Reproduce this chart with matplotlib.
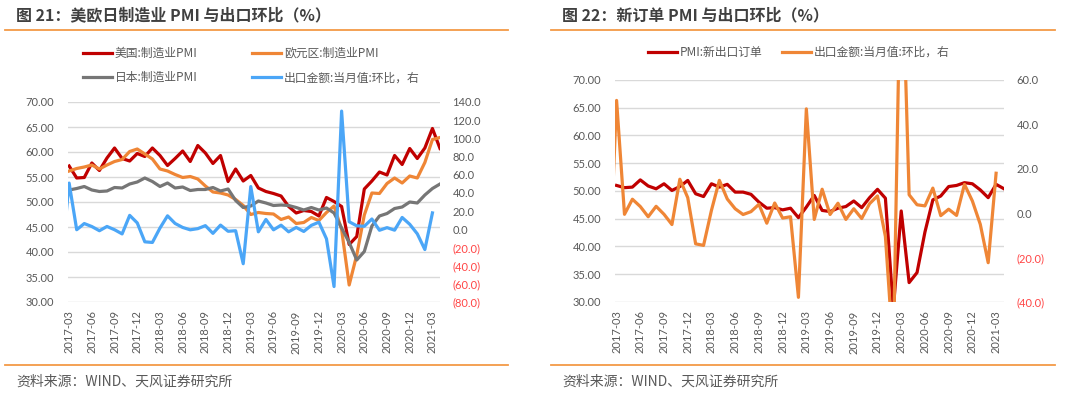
import matplotlib
matplotlib.use('Agg')
import matplotlib.pyplot as plt
from matplotlib.lines import Line2D

plt.rcParams['font.family'] = ['Noto Sans CJK SC', 'DejaVu Sans']

# ---------------- data ----------------
tick_labels = ['2017-03', '2017-06', '2017-09', '2017-12', '2018-03', '2018-06', '2018-09',
               '2018-12', '2019-03', '2019-06', '2019-09', '2019-12', '2020-03', '2020-06',
               '2020-09', '2020-12', '2021-03']

# monthly, 2017-03 .. 2021-04
us_pmi = [57.2, 54.8, 54.9, 57.8, 56.3, 58.8, 60.8, 58.7, 58.2, 59.7,
          59.1, 60.8, 59.3, 57.3, 58.7, 60.2, 58.1, 61.3, 59.8, 57.7, 59.3, 54.1,
          56.6, 54.2, 55.3, 52.8, 52.1, 51.7, 51.2, 49.1, 47.8, 48.3, 48.1, 47.2,
          50.9, 50.1, 49.1, 41.5, 43.1, 52.6, 54.2, 56.0, 55.4, 59.3, 57.5, 60.7,
          58.7, 60.8, 64.7, 60.7]
eu_pmi = [56.2, 56.7, 57.0, 57.4, 56.6, 57.4, 58.1, 58.5, 60.1, 60.6,
          59.6, 58.6, 56.6, 56.2, 55.5, 54.9, 55.1, 54.6, 53.2, 52.0, 51.8, 51.4,
          50.5, 49.3, 47.5, 47.9, 47.7, 47.6, 46.5, 47.0, 45.7, 45.9, 46.9, 46.3,
          47.9, 49.2, 44.5, 33.4, 39.4, 47.4, 51.8, 51.7, 53.7, 54.8, 53.8, 55.2,
          54.8, 57.9, 62.5, 62.9]
jp_pmi = [52.4, 52.7, 53.1, 52.4, 52.1, 52.2, 52.9, 52.8, 53.6, 54.0,
          54.8, 54.1, 53.1, 53.8, 52.8, 53.0, 52.3, 52.5, 52.5, 52.9, 52.2, 52.6,
          50.3, 48.9, 49.2, 50.2, 49.8, 49.3, 49.4, 49.3, 48.9, 48.4, 48.9, 48.4,
          48.8, 47.8, 44.8, 41.9, 38.4, 40.1, 45.2, 47.2, 47.7, 48.7, 49.0, 50.0,
          49.8, 51.4, 52.7, 53.6]
cn_new_export = [51.0, 50.6, 50.7, 52.0, 50.9, 50.4, 51.3, 50.1, 50.8, 51.9,
                 49.5, 49.0, 51.3, 50.7, 51.2, 49.8, 49.8, 49.4, 48.0, 46.9, 47.0, 46.6,
                 46.9, 45.2, 47.1, 49.2, 46.5, 46.3, 46.9, 47.2, 48.2, 47.0, 48.8, 50.3,
                 48.7, 28.7, 46.4, 33.5, 35.3, 42.6, 48.4, 49.1, 50.8, 51.0, 51.5, 51.3,
                 50.2, 48.8, 51.2, 50.4]
# monthly, 2017-02 .. 2021-03
export_mom = [-34.3,
              50.8, -0.5, 6.3, 3.0, -1.6, 3.1, -0.5, -5.1, 15.3, 7.0,
              -13.8, -14.5, 1.3, 14.8, 6.4, 2.0, -0.6, 0.7, 4.0, -4.5, 4.6, -2.2,
              -1.6, -37.9, 47.0, -2.8, 10.8, -0.6, 4.5, -2.8, 2.0, -2.4, 4.3, 7.8,
              -10.5, -63.0, 130.0, 8.3, 3.8, 3.3, 11.3, -1.1, 1.8, -1.0, 13.0, 5.5,
              -5.0, -22.3, 18.0]

left_names = ['美国:制造业PMI', '欧元区:制造业PMI', '日本:制造业PMI', '出口金额:当月值:环比，右']
right_names = ['PMI:新出口订单', '出口金额:当月值:环比，右']
titles = ['图 21：美欧日制造业 PMI 与出口环比（%）', '图 22：新订单 PMI 与出口环比（%）']
source = '资料来源：WIND、天风证券研究所'

# ---------------- style ----------------
C_RED = '#C00000'
C_ORANGE = '#EF8636'
C_GRAY = '#767676'
C_BLUE = '#4BA6F7'
C_LINE = '#F39A47'
C_TXT = '#595959'
C_NEG = '#FF4545'
LW = 2.3

W, H = 1080, 397
fig = plt.figure(figsize=(W / 100, H / 100), dpi=100)


def box(x0, x1, ytop, ybot):
    return [x0 / W, 1 - ybot / H, (x1 - x0) / W, (ybot - ytop) / H]


x_pmi = list(range(len(us_pmi)))
x_exp = list(range(-1, len(export_mom) - 1))
tick_pos = [3 * k for k in range(len(tick_labels))]


def fmt_r(v):
    return f'{v:.1f}' if v >= 0 else f'({abs(v):.1f})'


def style(ax, ax2, ylim, yticks, y2lim, y2ticks, xlim):
    for a in (ax, ax2):
        for s in a.spines.values():
            s.set_visible(False)
        a.tick_params(length=0)
    ax.set_xlim(*xlim)
    ax.set_ylim(*ylim)
    ax.set_yticks(yticks)
    ax.set_yticklabels([f'{v:.2f}' for v in yticks])
    ax.yaxis.grid(True, color='#D9D9D9', lw=1.0)
    ax.set_axisbelow(True)
    ax.set_xticks(tick_pos)
    ax.set_xticklabels(tick_labels, rotation=90)
    ax.tick_params(axis='y', pad=10, labelsize=8, labelcolor=C_TXT)
    ax.tick_params(axis='x', pad=6, labelsize=8, labelcolor=C_TXT)
    ax2.set_ylim(*y2lim)
    ax2.set_yticks(y2ticks)
    ax2.set_yticklabels([fmt_r(v) for v in y2ticks])
    ax2.tick_params(axis='y', pad=9, labelsize=8)
    for lab, v in zip(ax2.get_yticklabels(), y2ticks):
        lab.set_color(C_TXT if v >= 0 else C_NEG)
    for lab in ax.get_xticklabels() + ax.get_yticklabels() + ax2.get_yticklabels():
        lab.set_fontfamily(['Lato', 'DejaVu Sans'])


# ---------------- left chart ----------------
axL = fig.add_axes(box(68, 440, 102, 302))
axL2 = axL.twinx()
l_us, = axL.plot(x_pmi, us_pmi, color=C_RED, lw=LW, solid_joinstyle='round')
l_eu, = axL.plot(x_pmi, eu_pmi, color=C_ORANGE, lw=LW, solid_joinstyle='round')
l_jp, = axL.plot(x_pmi, jp_pmi, color=C_GRAY, lw=LW, solid_joinstyle='round')
l_ex, = axL2.plot(x_exp, export_mom, color=C_BLUE, lw=LW, solid_joinstyle='round')
style(axL, axL2, (30, 70), list(range(30, 71, 5)), (-80, 140), list(range(-80, 141, 20)),
      (-0.15, 49.0))

legL = fig.legend([l_us, l_jp, l_eu, l_ex],
                  [left_names[0], left_names[2], left_names[1], left_names[3]],
                  ncol=2, loc='upper left', bbox_to_anchor=(83 / W, 1 - 47 / H),
                  frameon=False, fontsize=8.5, handlelength=2.45, handletextpad=0.25,
                  columnspacing=4.6, labelspacing=0.95, borderpad=0, borderaxespad=0,
                  labelcolor=C_TXT)

# ---------------- right chart ----------------
axR = fig.add_axes(box(615, 1004, 80, 302))
axR2 = axR.twinx()
r_cn, = axR.plot(x_pmi, cn_new_export, color=C_RED, lw=LW, solid_joinstyle='round')
r_ex, = axR2.plot(x_exp, export_mom, color=C_ORANGE, lw=LW, solid_joinstyle='round')
style(axR, axR2, (30, 70), list(range(30, 71, 5)), (-40, 60), list(range(-40, 61, 20)),
      (-0.2, 49.0))

legR = fig.legend([r_cn, r_ex], right_names, ncol=2, loc='upper left',
                  bbox_to_anchor=(648 / W, 1 - 46 / H), frameon=False, fontsize=8.5,
                  handlelength=2.45, handletextpad=0.2, columnspacing=1.7,
                  borderpad=0, borderaxespad=0, labelcolor=C_TXT)

# ---------------- titles, rules, footers ----------------
for (x0, x1, tx) in [(5, 508, 16), (551, 1055, 562)]:
    fig.add_artist(Line2D([x0 / W, x1 / W], [1 - 29.5 / H, 1 - 29.5 / H],
                          color=C_LINE, lw=1.3))
    fig.add_artist(Line2D([x0 / W, x1 / W], [1 - 364.5 / H, 1 - 364.5 / H],
                          color=C_LINE, lw=1.3))

fig.text(16 / W, 1 - 15 / H, titles[0], fontsize=11.5, fontweight='bold',
         color='#404040', va='center', ha='left')
fig.text(562 / W, 1 - 15 / H, titles[1], fontsize=11.5, fontweight='bold',
         color='#404040', va='center', ha='left')
fig.text(16 / W, 1 - 382 / H, source, fontsize=10, color=C_TXT, va='center', ha='left')
fig.text(562 / W, 1 - 382 / H, source, fontsize=10, color=C_TXT, va='center', ha='left')

fig.savefig('out.png', dpi=100)
